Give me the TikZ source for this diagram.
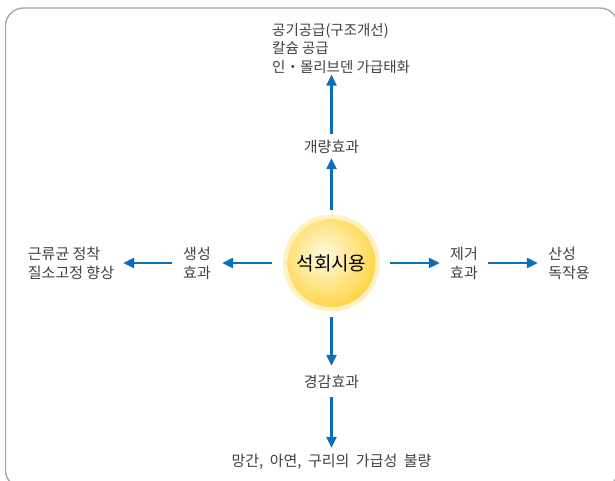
\documentclass[tikz,border=0pt]{standalone}
\usepackage{fontspec}
\setmainfont{Noto Sans CJK KR}
\usetikzlibrary{arrows.meta}
\definecolor{arrblue}{HTML}{0A6EB8}
\definecolor{txt}{HTML}{404040}
\definecolor{framec}{HTML}{A8A8A8}
\definecolor{glow}{HTML}{FFF1C0}
\definecolor{sunin}{HTML}{FFFAE0}
\definecolor{sunout}{HTML}{FFD23A}
\newcommand\wsp{\hspace{6.5pt}}
\begin{document}
\begin{tikzpicture}[x=1pt,y=-1pt,
  arr/.style={draw=arrblue, line width=2.3pt, -{Triangle[length=11pt,width=10pt]}},
  lbl/.style={text=txt, font=\fontsize{15}{19}\selectfont, align=center, inner sep=0pt},
]
\useasboundingbox (0,0) rectangle (615,481);
\begin{scope}
  \clip (0,0) rectangle (615,481);
  \draw[framec, line width=1.4pt, rounded corners=18pt] (5.5,8) rectangle (618,488);
\end{scope}
% sun
\fill[glow] (331.5,263) circle (48.5pt);
\begin{scope}
  \clip (331.5,263) circle (44pt);
  \shade[inner color=sunin, outer color=sunout] (324,255) circle (58pt);
\end{scope}
\node[circle, minimum size=97pt, inner sep=0pt, text=black, font=\fontsize{19}{19}\selectfont] (c) at (331.5,263) {석회시용};
% nodes
\node[lbl, minimum height=30pt] (g) at (331.5,147) {개량효과};
\node[lbl, align=left, anchor=north west, font=\fontsize{14.5}{18.5}\selectfont] (t) at (272,23) {공기공급(구조개선)\\칼슘 공급\\인・몰리브덴 가급태화};
\node[lbl, minimum height=30pt] (k) at (331.5,382) {경감효과};
\node[lbl, minimum height=24pt] (b) at (331.5,462) {망간,\wsp 아연,\wsp 구리의\wsp 가급성\wsp 불량};
\node[lbl, minimum width=50pt] (s) at (197,263) {생성\\효과};
\node[lbl, align=left, minimum width=104pt] (l) at (71,263) {근류균 정착\\질소고정 향상};
\node[lbl, minimum width=48pt] (r) at (464,263) {제거\\효과};
\node[lbl, align=left, minimum width=62pt] (rr) at (569,263) {산성\\독작용};
% arrows
\draw[arr, shorten <=4.5pt, shorten >=-4pt] (c.north) -- (g.south);
\draw[arr, shorten <=-2pt, shorten >=1pt] (g.north) -- (g.north |- t.south);
\draw[arr, shorten <=5.5pt, shorten >=1pt] (c.south) -- (k.north);
\draw[arr, shorten >=2pt] (k.south) -- (b.north);
\draw[arr, shorten <=11pt] (c.west) -- (s.east);
\draw[arr] (s.west) -- (l.east);
\draw[arr, shorten <=10pt] (c.east) -- (r.west);
\draw[arr] (r.east) -- (rr.west);
\end{tikzpicture}
\end{document}
